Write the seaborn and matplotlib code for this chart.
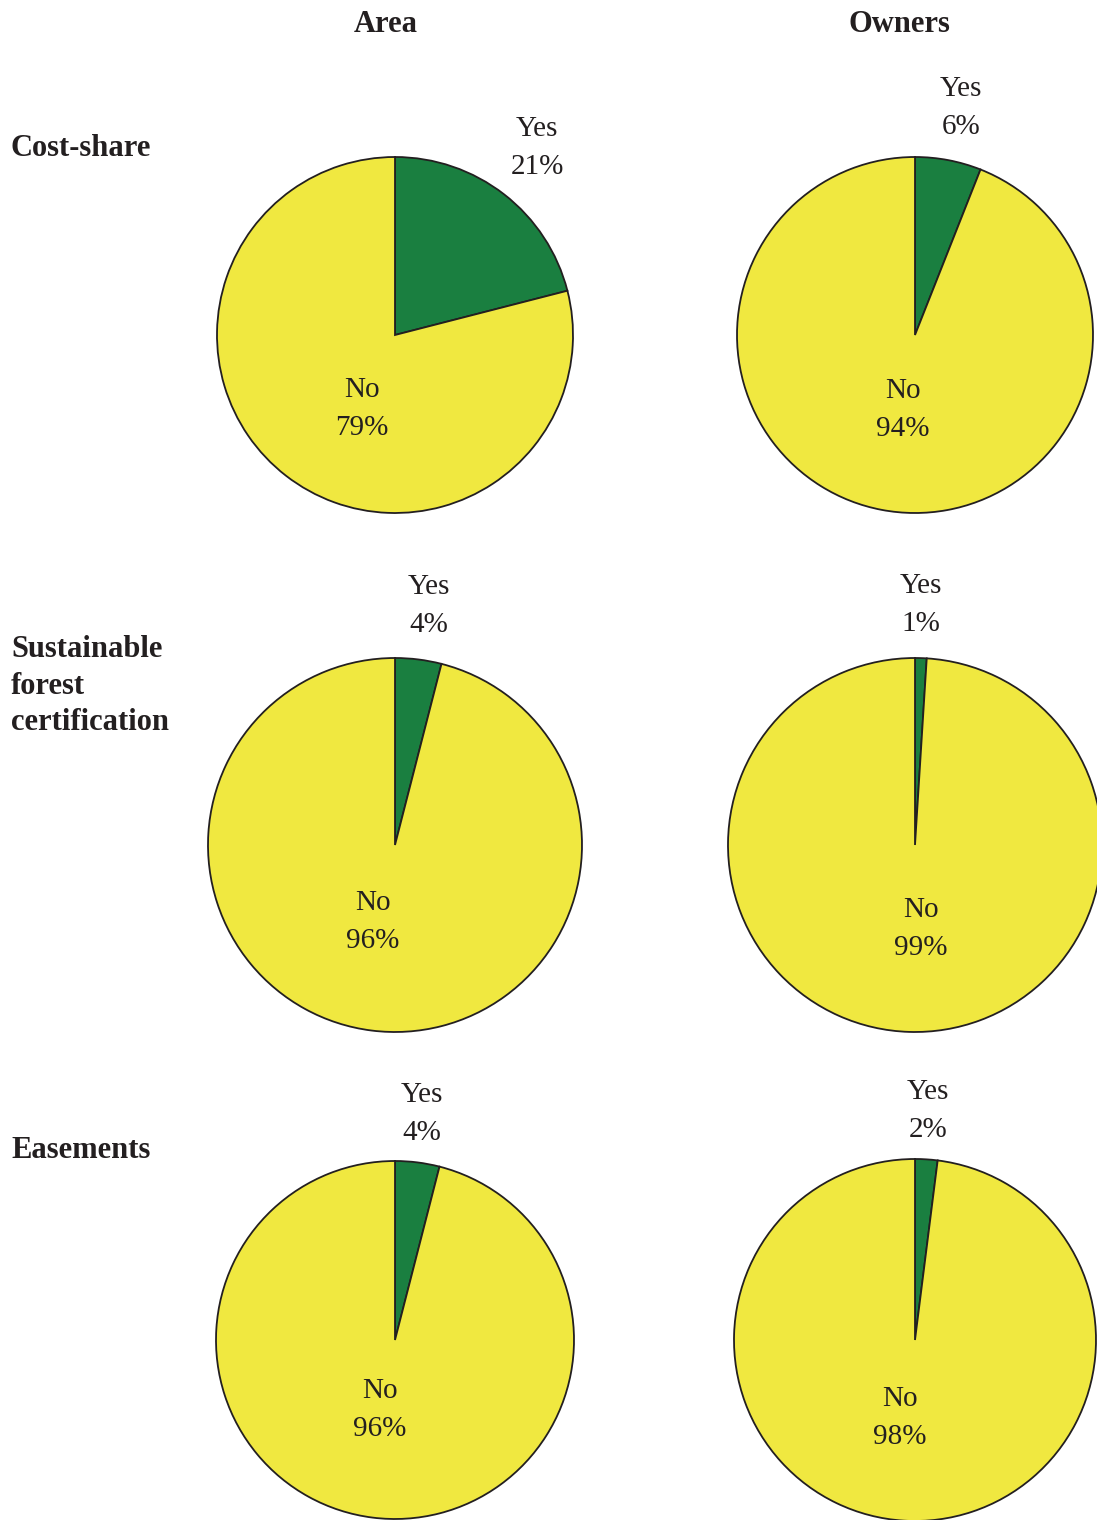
import matplotlib
matplotlib.use("Agg")
import matplotlib.pyplot as plt
import seaborn as sns

# Data
columns = ["Area", "Owners"]
rows = ["Cost-share", "Sustainable\nforest\ncertification", "Easements"]
yes_area = [21, 4, 4]
yes_owners = [6, 1, 2]
no_area = [79, 96, 96]
no_owners = [94, 99, 98]
slice_labels = ["Yes", "No"]
colors = ["#1a7f40", "#f0e840"]

sns.set_theme(style="white")
plt.rcParams['font.family'] = ['Liberation Serif', 'DejaVu Serif']

W, H = 1097, 1520
fig = plt.figure(figsize=(W / 100, H / 100), dpi=100)
ax = fig.add_axes([0, 0, 1, 1])
ax.set_xlim(0, W)
ax.set_ylim(0, H)
ax.set_aspect('equal')
ax.axis('off')

def Y(py):
    return H - py

# layout (pixel positions)
centers = [[(395, 335), (915, 335)],
           [(395, 845), (915, 845)],
           [(395, 1340), (915, 1340)]]
radii = [[178, 178], [187, 187], [179, 181]]
yes_pos = [[(537, 148), (961, 108)],
           [(429, 606), (921, 605)],
           [(422, 1114), (928, 1111)]]
no_pos = [[(362, 409), (903, 410)],
          [(373, 922), (921, 929)],
          [(380, 1410), (900, 1418)]]

vals = [[(yes_area[i], no_area[i]), (yes_owners[i], no_owners[i])] for i in range(3)]

TXT = "#231f20"
for i in range(3):
    for j in range(2):
        cx, cy = centers[i][j]
        y, n = vals[i][j]
        ax.pie([y, n], colors=colors, startangle=90, counterclock=False,
               center=(cx, Y(cy)), radius=radii[i][j],
               wedgeprops=dict(edgecolor=TXT, linewidth=1.3),
               frame=True)
        tx, ty = yes_pos[i][j]
        ax.text(tx, Y(ty), f"{slice_labels[0]}\n{y}%", ha='center', va='center',
                fontsize=21, color=TXT, linespacing=1.62)
        tx, ty = no_pos[i][j]
        ax.text(tx, Y(ty), f"{slice_labels[1]}\n{n}%", ha='center', va='center',
                fontsize=21, color=TXT, linespacing=1.62)

ax.set_xlim(0, W)
ax.set_ylim(0, H)
ax.axis('off')

# headers
for x, t in zip([386, 899], columns):
    ax.text(x, Y(25), t, ha='center', va='center', fontsize=22,
            fontweight='bold', color=TXT)

row_y = [148, 686, 1151]
for y, t in zip(row_y, rows):
    ax.text(11, Y(y), t, ha='left', va='center', fontsize=22,
            fontweight='bold', color=TXT, linespacing=1.33)

fig.savefig("out.png", dpi=100)
